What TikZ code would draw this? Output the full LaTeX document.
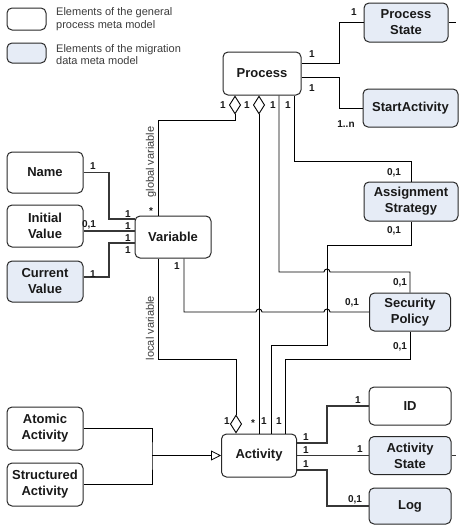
\documentclass[tikz,border=0pt]{standalone}
\usepackage{fontspec}
\setmainfont{Liberation Sans}
\usetikzlibrary{arrows.meta}

\definecolor{migblue}{RGB}{230,236,246}
\definecolor{boxline}{RGB}{40,40,40}
\definecolor{attrline}{RGB}{55,55,55}
\definecolor{txt}{RGB}{25,25,25}

\tikzset{
  box/.style={draw=boxline, line width=1pt, rounded corners=5pt, align=center,
    inner sep=0pt, text=txt, font=\bfseries\fontsize{13}{16}\selectfont},
  gen/.style={box, fill=white},
  mig/.style={box, fill=migblue},
  mult/.style={inner sep=0pt, text=txt, font=\bfseries\fontsize{10}{12}\selectfont},
  legtext/.style={anchor=west, align=left, inner sep=0pt, text=txt!85,
    font=\fontsize{11}{12.5}\selectfont},
  roletext/.style={rotate=90, inner sep=0pt, text=txt!85, font=\fontsize{11}{13}\selectfont},
  conn/.style={line width=0.9pt},
  attr/.style={line width=1.2pt, draw=attrline},
  aggr/.style={conn, -{Diamond[open,length=19pt,width=12pt]}}
}

\begin{document}
\begin{tikzpicture}[x=1pt,y=-1pt]
    \useasboundingbox (0,0) rectangle (459,525);

    % Legend
    \node[gen, minimum width=39pt, minimum height=22pt] (legwhite) at (26.5,19) {};
    \node[mig, minimum width=39pt, minimum height=20pt] (legblue) at (26.5,53) {};
    \node[legtext] (legwhitetxt) at (56,19) {Elements of the general\\process meta model};
    \node[legtext] (legbluetxt) at (56,54.5) {Elements of the migration\\data meta model};

    % Process and its parts
    \node[gen, minimum width=78pt, minimum height=43pt] (process) at (262,73.5) {Process};
    \node[mig, minimum width=84pt, minimum height=39pt] (pstate) at (406,22.5) {Process\\State};
    \node[mig, minimum width=95pt, minimum height=38pt] (start) at (410.5,108) {StartActivity};
    \node[mig, minimum width=94pt, minimum height=39pt] (assign) at (411,201.5) {Assignment\\Strategy};
    \node[mig, minimum width=81pt, minimum height=38pt] (secpol) at (410,312) {Security\\Policy};
    \coordinate (psend) at (456,22.5);

    % Variable and its attributes
    \node[gen, minimum width=76pt, minimum height=42pt] (var) at (173,237) {Variable};
    \node[gen, minimum width=76pt, minimum height=41pt] (name) at (45,172.5) {Name};
    \node[gen, minimum width=76pt, minimum height=42pt] (initval) at (45,226) {Initial\\Value};
    \node[mig, minimum width=76pt, minimum height=41pt] (curval) at (45,281.5) {Current\\Value};

    % Activity and its attributes
    \node[gen, minimum width=75pt, minimum height=43pt] (act) at (259,455.5) {Activity};
    \node[gen, minimum width=76pt, minimum height=43pt] (atomic) at (45,428.5) {Atomic\\Activity};
    \node[gen, minimum width=76pt, minimum height=43pt] (struct) at (45,484.5) {Structured\\Activity};
    \node[gen, minimum width=82pt, minimum height=38pt] (id) at (410,406) {ID};
    \node[mig, minimum width=82pt, minimum height=38pt] (actstate) at (410,455.5) {Activity\\State};
    \node[mig, minimum width=82pt, minimum height=36pt] (log) at (410,506) {Log};
    \coordinate (asend) at (456,455.5);

    % Process associations
    \draw[conn] ([yshift=10.5pt]process.east) -- (339,63) |- (pstate.west);
    \draw[conn] ([yshift=-3.5pt]process.east) -- (339,77) |- (start.west);
    \draw[conn] (pstate.east) -- (psend);

    % Aggregations and policies
    \draw[aggr] ([xshift=-15pt]var.north) |- (235,120) -- ([xshift=-27pt]process.south);
    \draw[conn, {Diamond[open,length=19pt,width=12pt]}-] ([xshift=-3pt]process.south) -- (act.north);
    \draw[conn] (assign.north) -- ++(0,-20) -| ([xshift=32pt]process.south);
    \draw[conn] (secpol.north) |- (330,272)
        arc[start angle=0, end angle=180, radius=3pt] -| ([xshift=17pt]process.south);
    \draw[conn] (assign.south) |- (327,245) -- (327,345) -| ([xshift=12pt]act.north);
    \draw[conn] (secpol.south) -- ++(0,28) -| ([xshift=26pt]act.north);
    \draw[conn] ([xshift=11pt]var.south) |- (256,312)
        arc[start angle=180, end angle=0, radius=3pt] -- (324,312)
        arc[start angle=180, end angle=0, radius=3pt] -- (secpol.west);
    \draw[aggr] ([xshift=-15pt]var.south) |- (236,359) -- ([xshift=-23pt]act.north);

    % Attribute links
    \draw[attr] (name.east) -| (109,219) -- ([yshift=18pt]var.west);
    \draw[attr] ([yshift=-5pt]initval.east) -- ([yshift=6pt]var.west);
    \draw[attr] ([yshift=4.5pt]curval.east) -| (109,243) -- ([yshift=-6pt]var.west);
    \draw[attr] ([yshift=12.5pt]act.east) -| (327,406) -- (id.west);
    \draw[attr] (act.east) -- (actstate.west);
    \draw[attr] ([yshift=-14.5pt]act.east) -| (327,506) -- (log.west);
    \draw[attr] (actstate.east) -- (asend);

    % Generalisation
    \coordinate (genpt) at (152,455.5);
    \draw[conn] (atomic.east) -| (genpt) |- (struct.east);
    \draw[line width=1.6pt, -{Triangle[open,length=10pt,width=10pt,line width=0.8pt]}] (genpt) -- (act.west);

    % Role names
    \node[roletext] (globvar) at (151,162) {global variable};
    \node[roletext] (locvar) at (150,328) {local variable};

    % Multiplicities
    \node[mult] (mpa) at (312,54) {1};
    \node[mult] (mpb) at (354,12) {1};
    \node[mult] (mpc) at (312,88) {1};
    \node[mult] (mpd) at (346,124) {1..n};
    \node[mult] (mpe) at (223,105) {1};
    \node[mult] (mpf) at (247,105) {1};
    \node[mult] (mpg) at (273,105) {1};
    \node[mult] (mph) at (288,105) {1};
    \node[mult] (mas) at (394,173) {0,1};
    \node[mult] (mat) at (394,231) {0,1};
    \node[mult] (msa) at (400,283) {0,1};
    \node[mult] (msb) at (352,303) {0,1};
    \node[mult] (msc) at (400,347) {0,1};
    \node[mult] (mva) at (151,211) {*};
    \node[mult] (mvb) at (93,166) {1};
    \node[mult] (mvc) at (89,225) {0,1};
    \node[mult] (mvd) at (93,274) {1};
    \node[mult] (mve) at (128,214) {1};
    \node[mult] (mvf) at (128,226) {1};
    \node[mult] (mvg) at (128,238) {1};
    \node[mult] (mvh) at (128,250) {1};
    \node[mult] (mvi) at (177,266) {1};
    \node[mult] (maa) at (227,421) {1};
    \node[mult] (mab) at (253,423) {*};
    \node[mult] (mac) at (264,421) {1};
    \node[mult] (mad) at (279,421) {1};
    \node[mult] (mae) at (306,437) {1};
    \node[mult] (maf) at (306,450) {1};
    \node[mult] (mag) at (306,464) {1};
    \node[mult] (mah) at (358,400) {1};
    \node[mult] (mai) at (360,449) {1};
    \node[mult] (maj) at (355,500) {0,1};

\end{tikzpicture}
\end{document}
